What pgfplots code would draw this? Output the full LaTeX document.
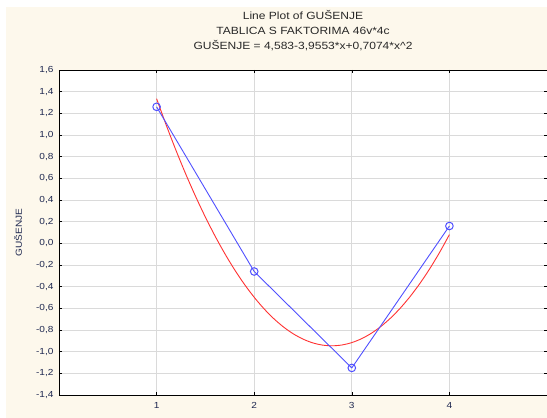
\documentclass[border=0pt]{standalone}
\usepackage{pgfplots}
\pgfplotsset{compat=1.18}
\usepackage{fontspec}
\setmainfont{Liberation Sans}[FakeStretch=1.15]
\definecolor{cream}{RGB}{253,248,236}
\definecolor{ticktxt}{RGB}{30,40,80}
\definecolor{ttl}{RGB}{40,40,40}
\definecolor{gridc}{RGB}{218,218,218}
\definecolor{bluel}{RGB}{80,80,255}
\definecolor{redl}{RGB}{255,50,50}
\begin{document}
\begin{tikzpicture}
\path[use as bounding box] (0,0) rectangle (547bp,418bp);
\fill[white] (0,0) rectangle (547bp,418bp);
\fill[cream] (6bp,0) rectangle (547bp,411bp);
\begin{axis}[
  at={(59bp,23bp)}, anchor=south west,
  scale only axis, width=488bp, height=325bp,
  xmin=0, xmax=5, ymin=-1.4, ymax=1.6,
  xtick={1,2,3,4},
  ytick={-1.4,-1.2,...,1.61},
  axis background/.style={fill=white},
  grid=major,
  major grid style={gridc, line width=0.8pt},
  axis line style={black, line width=0.9pt},
  tick style={black, line width=0.6pt},
  major tick length=3bp,
  tick align=inside,
  xtick pos=both, ytick pos=both,
  /pgf/number format/assume math mode=true,
  y tick label style={/pgf/number format/fixed, /pgf/number format/fixed zerofill, /pgf/number format/precision=1, /pgf/number format/use comma},
  ticklabel style={font=\fontsize{8.8}{10}\selectfont, text=ticktxt},
  xticklabel style={yshift=-4bp},
  yticklabel style={xshift=-2bp},
  ylabel={GUŠENJE},
  every axis y label/.style={at={(axis description cs:-0.084,0.5)}, rotate=90, anchor=center, font=\fontsize{8.8}{10}\selectfont, text=ticktxt},
  title={Line Plot of GUŠENJE\\TABLICA S FAKTORIMA 46v*4c\\GUŠENJE = 4,583-3,9553*x+0,7074*x\^{}2},
  every axis title/.style={at={(axis description cs:0.5,1)}, anchor=south, yshift=16bp, align=center, font=\fontsize{10.5}{15}\selectfont, text=ttl},
]
\addplot[redl, line width=0.9pt, no marks, smooth] coordinates {
(1.0,1.3351)(1.1,1.0881)(1.2,0.8553)(1.3,0.6366)(1.4,0.4321)(1.5,0.2417)
(1.6,0.0655)(1.7,-0.0966)(1.8,-0.2446)(1.9,-0.3784)(2.0,-0.4980)
(2.1,-0.6035)(2.2,-0.6948)(2.3,-0.7720)(2.4,-0.8351)(2.5,-0.8840)
(2.6,-0.9188)(2.7,-0.9394)(2.8,-0.9458)(2.9,-0.9381)(3.0,-0.9163)
(3.1,-0.8803)(3.2,-0.8302)(3.3,-0.7659)(3.4,-0.6875)(3.5,-0.5949)
(3.6,-0.4882)(3.7,-0.3673)(3.8,-0.2323)(3.9,-0.0831)(4.0,0.0802)
};
\addplot[bluel, line width=0.9pt, mark=o, mark size=3.8bp, mark options={line width=1pt}] coordinates {
(1,1.26)(2,-0.26)(3,-1.15)(4,0.16)
};
\end{axis}
\end{tikzpicture}
\end{document}
